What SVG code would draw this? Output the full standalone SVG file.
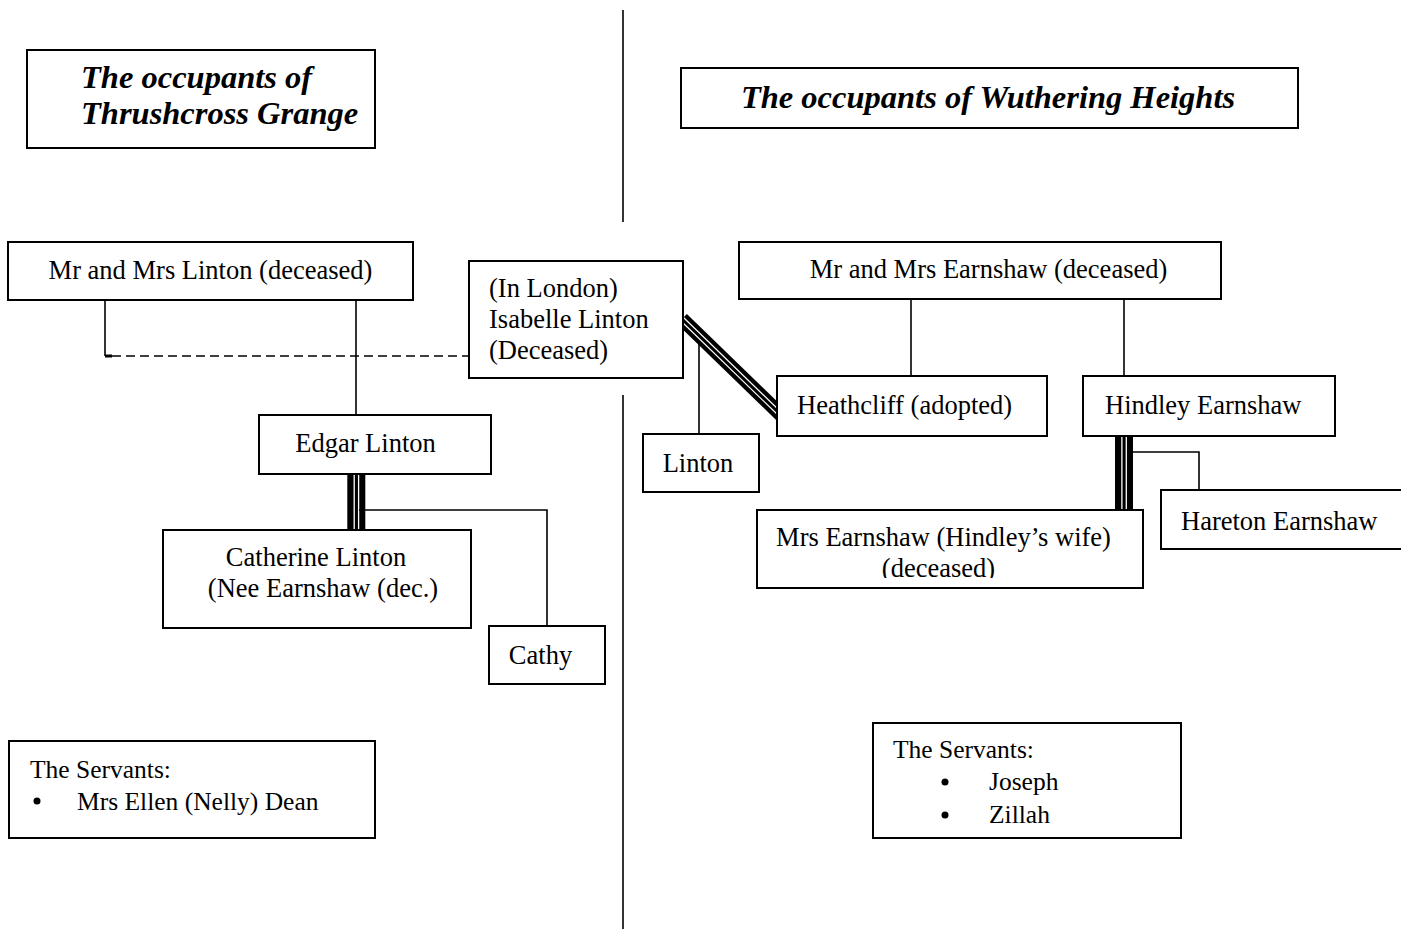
<svg xmlns="http://www.w3.org/2000/svg" width="1401" height="929" viewBox="0 0 1401 929">
<style>
.box{fill:#fff;stroke:#000;stroke-width:2}
.t{font-family:"Liberation Serif","Times New Roman",serif;font-size:26.5px;fill:#000}
.s{font-size:25.5px}
.title{font-family:"Liberation Serif","Times New Roman",serif;font-size:32.5px;font-weight:bold;font-style:italic;fill:#000}
.ln{stroke:#000;stroke-width:1.6;fill:none}
.dash{stroke:#000;stroke-width:1.6;fill:none;stroke-dasharray:9 5}
.tri{stroke:#000;stroke-width:18;fill:none}
.gap{stroke:#fff;stroke-width:1.3;fill:none}
.mid{text-anchor:middle}
</style>
<defs>
<clipPath id="clipME"><rect x="757" y="510" width="386" height="68"/></clipPath>
</defs>
<rect width="1401" height="929" fill="#fff"/>

<g id="connectors">
<line class="ln" x1="623" y1="10" x2="623" y2="222"/>
<line class="ln" x1="623" y1="395" x2="623" y2="929"/>
<polyline class="ln" points="105,300 105,356"/>
<line x1="105" y1="356" x2="112" y2="356" stroke="#000" stroke-width="3"/>
<line class="dash" x1="112" y1="356" x2="469" y2="356"/>
<line class="ln" x1="356" y1="300" x2="356" y2="415"/>
<line class="tri" x1="356.3" y1="474" x2="356.3" y2="530"/>
<line class="gap" x1="354.2" y1="474" x2="354.2" y2="530"/>
<line class="gap" x1="358.6" y1="474" x2="358.6" y2="530"/>
<polyline class="ln" points="359,510 547,510 547,626"/>
<line class="ln" x1="911" y1="299" x2="911" y2="376"/>
<line class="ln" x1="1124" y1="299" x2="1124" y2="376"/>
<line class="tri" x1="1124" y1="436" x2="1124" y2="510"/>
<line class="gap" x1="1121.9" y1="436" x2="1121.9" y2="510"/>
<line class="gap" x1="1126.3" y1="436" x2="1126.3" y2="510"/>
<polyline class="ln" points="1127,452 1199,452 1199,490"/>
<line class="ln" x1="699" y1="336" x2="699" y2="434"/>
<g>
<line x1="682" y1="319" x2="781" y2="415" stroke="#000" stroke-width="14"/>
<line x1="680.5" y1="320.5" x2="779.5" y2="416.5" stroke="#fff" stroke-width="1.2"/>
<line x1="683.5" y1="317.5" x2="782.5" y2="413.5" stroke="#fff" stroke-width="1.2"/>
</g>
</g>

<g id="title-grange">
<rect class="box" x="27" y="50" width="348" height="98"/>
<text class="title" x="81" y="88">The occupants of</text>
<text class="title" x="81" y="124">Thrushcross Grange</text>
</g>
<g id="title-heights">
<rect class="box" x="681" y="68" width="617" height="60"/>
<text class="title mid" x="988" y="108">The occupants of Wuthering Heights</text>
</g>

<g id="mr-mrs-linton">
<rect class="box" x="8" y="242" width="405" height="58"/>
<text class="t mid" x="210.5" y="279">Mr and Mrs Linton (deceased)</text>
</g>
<g id="isabelle">
<rect class="box" x="469" y="261" width="214" height="117"/>
<text class="t" x="489" y="297">(In London)</text>
<text class="t" x="489" y="328">Isabelle Linton</text>
<text class="t" x="489" y="359">(Deceased)</text>
</g>
<g id="edgar">
<rect class="box" x="259" y="415" width="232" height="59"/>
<text class="t mid" x="365.5" y="452">Edgar Linton</text>
</g>
<g id="catherine">
<rect class="box" x="163" y="530" width="308" height="98"/>
<text class="t mid" x="316" y="566">Catherine Linton</text>
<text class="t mid" x="323" y="597">(Nee Earnshaw (dec.)</text>
</g>
<g id="cathy">
<rect class="box" x="489" y="626" width="116" height="58"/>
<text class="t mid" x="540.5" y="664">Cathy</text>
</g>

<g id="mr-mrs-earnshaw">
<rect class="box" x="739" y="242" width="482" height="57"/>
<text class="t mid" x="988.5" y="278">Mr and Mrs Earnshaw (deceased)</text>
</g>
<g id="heathcliff">
<rect class="box" x="777" y="376" width="270" height="60"/>
<text class="t" x="797" y="414">Heathcliff (adopted)</text>
</g>
<g id="hindley">
<rect class="box" x="1083" y="376" width="252" height="60"/>
<text class="t" x="1105" y="414">Hindley Earnshaw</text>
</g>
<g id="linton">
<rect class="box" x="643" y="434" width="116" height="58"/>
<text class="t mid" x="698" y="472">Linton</text>
</g>
<g id="mrs-earnshaw">
<rect class="box" x="757" y="510" width="386" height="78"/>
<g clip-path="url(#clipME)">
<text class="t mid" x="943.5" y="546">Mrs Earnshaw (Hindley’s wife)</text>
<text class="t mid" x="938.5" y="577">(deceased)</text>
</g>
</g>
<g id="hareton">
<rect class="box" x="1161" y="490" width="260" height="59"/>
<text class="t" x="1181" y="530">Hareton Earnshaw</text>
</g>

<g id="servants-grange">
<rect class="box" x="9" y="741" width="366" height="97"/>
<text class="t s" x="30" y="778">The Servants:</text>
<circle cx="37" cy="801" r="3.5"/>
<text class="t s" x="77" y="810">Mrs Ellen (Nelly) Dean</text>
</g>
<g id="servants-heights">
<rect class="box" x="873" y="723" width="308" height="115"/>
<text class="t s" x="893" y="758">The Servants:</text>
<circle cx="945" cy="782" r="3.5"/>
<text class="t s" x="989" y="790">Joseph</text>
<circle cx="945" cy="815" r="3.5"/>
<text class="t s" x="989" y="823">Zillah</text>
</g>
</svg>
